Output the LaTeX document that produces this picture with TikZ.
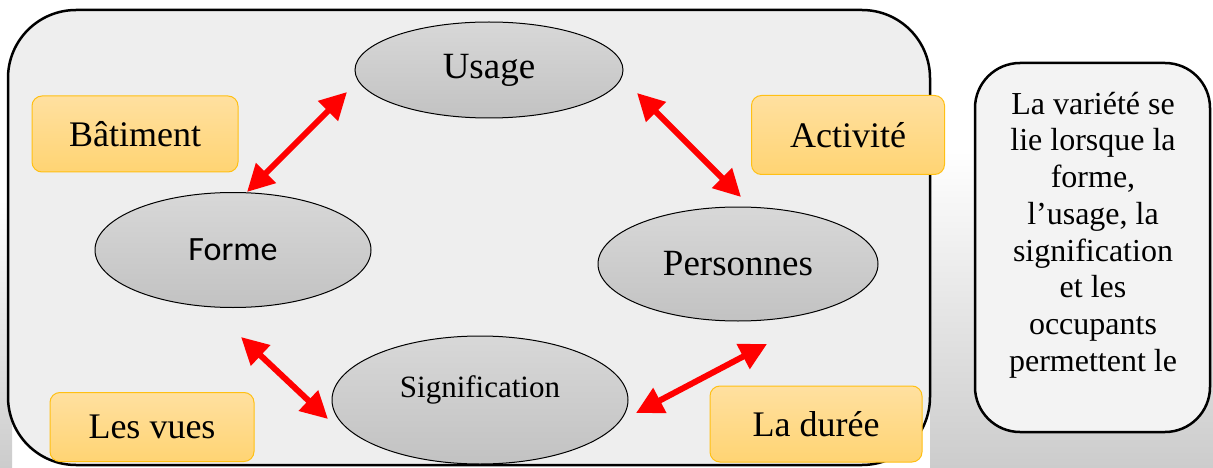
\documentclass[tikz,border=0pt]{standalone}
\usepackage{fontspec}
\setmainfont{Liberation Serif}
\newfontfamily\carlitofont{Carlito}
\usetikzlibrary{shapes.geometric,arrows.meta}
\definecolor{panel}{RGB}{238,238,238}
\definecolor{sidepanel}{RGB}{243,243,243}
\definecolor{elltop}{RGB}{216,216,216}
\definecolor{ellbot}{RGB}{194,194,194}
\definecolor{orgtop}{RGB}{255,224,160}
\definecolor{orgbot}{RGB}{255,212,115}
\definecolor{orgline}{RGB}{255,192,20}
\definecolor{arrred}{RGB}{255,0,0}
\tikzset{
  ellnode/.style={ellipse, draw=black, line width=1pt, inner sep=0pt,
    top color=elltop, bottom color=ellbot, text=black},
  tagbox/.style={rectangle, rounded corners=10pt, draw=orgline, line width=1pt,
    top color=orgtop, bottom color=orgbot, inner sep=0pt, text=black,
    font=\fontsize{36}{40}\selectfont},
  link/.style={draw=arrred, line width=6pt,
    {Triangle[length=27pt,width=27pt]}-{Triangle[length=27pt,width=27pt]}},
}
\begin{document}
\begin{tikzpicture}[x=1pt,y=-1pt]
\useasboundingbox (0,0) rectangle (1213,468);
\fill[white] (0,0) rectangle (1213,468);
\shade[top color=white, bottom color=gray!40] (930,150) rectangle (1213,468);
\shade[top color=white, bottom color=gray!40] (0,200) rectangle (12,468);
% main panel
\draw[line width=2.5pt, fill=panel, rounded corners=68pt] (8,10) rectangle (930,465);
% side panel
\draw[line width=2.5pt, fill=sidepanel, rounded corners=45pt] (975,63) rectangle (1210,432);
\node[align=center, font=\fontsize{32}{36.7}\selectfont] (note) at (1093,235)
  {La variété se\\lie lorsque la\\forme,\\l’usage, la\\signification\\et les\\occupants\\permettent le};
% ellipses
\node[ellnode, minimum width=268pt, minimum height=96pt, font=\fontsize{37}{40}\selectfont] (usage) at (489,70) {Usage};
\node[ellnode, minimum width=276pt, minimum height=115pt, font=\carlitofont\fontsize{34}{40}\selectfont] (forme) at (233,250) {Forme};
\node[ellnode, minimum width=280pt, minimum height=114pt, font=\fontsize{37}{40}\selectfont] (pers) at (738,264) {Personnes};
\node[ellnode, minimum width=296pt, minimum height=128pt] (sig) at (480,400) {};
\node[font=\fontsize{31}{36}\selectfont] (sigtext) at (480,390) {Signification};
% tags
\node[tagbox, minimum width=206pt, minimum height=76pt] (bat) at (135,134) {Bâtiment};
\node[tagbox, minimum width=193pt, minimum height=79pt] (act) at (848,135) {Activité};
\node[tagbox, minimum width=204pt, minimum height=69pt] (vues) at (152,427) {Les vues};
\node[tagbox, minimum width=212pt, minimum height=76pt] (duree) at (816,424) {La durée};
% arrow ends
\coordinate (uf1) at (347,92);
\coordinate (uf2) at (247,192);
\coordinate (up1) at (637,93);
\coordinate (up2) at (741,197);
\coordinate (fs1) at (241,337);
\coordinate (fs2) at (328,419);
\coordinate (sp1) at (636,413);
\coordinate (sp2) at (767,344);
\draw[link] (uf1) -- (uf2);
\draw[link] (up1) -- (up2);
\draw[link] (fs1) -- (fs2);
\draw[link] (sp1) -- (sp2);
\end{tikzpicture}
\end{document}
